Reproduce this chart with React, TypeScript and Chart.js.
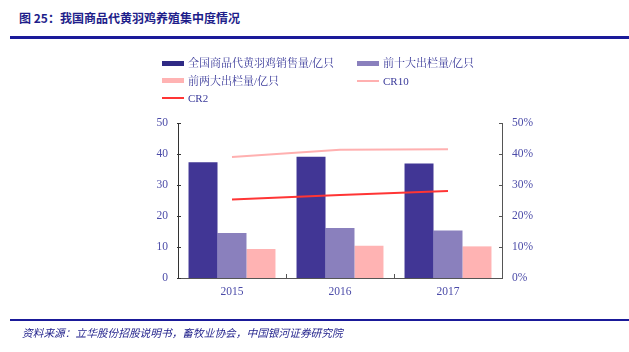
import React, { useEffect, useRef } from "react";
import { Chart, registerables } from "chart.js";

Chart.register(...registerables);

const categories = ["2015", "2016", "2017"];
const totalSales = [37.3, 39.1, 36.9];
const top10Output = [14.5, 16.1, 15.3];
const top2Output = [9.35, 10.4, 10.2];
const cr10 = [39.0, 41.4, 41.5];
const cr2 = [25.3, 26.8, 28.1];
const leftTicks = [0, 10, 20, 30, 40, 50];
const rightTicks = [0, 10, 20, 30, 40, 50];

const seriesNames = [
  "全国商品代黄羽鸡销售量/亿只",
  "前十大出栏量/亿只",
  "前两大出栏量/亿只",
  "CR10",
  "CR2",
];

const C_DARK = "#413695";
const C_MID = "#8a80bd";
const C_PINK = "#ffb3b3";
const C_CR10 = "#ffb0b0";
const C_CR2 = "#ff3535";
const TEXT_BLUE = "#4b4ba8";
const NAVY = "#1e1e8a";

const innerTicks = {
  id: "innerTicks",
  afterDraw(chart: any) {
    const ctx = chart.ctx;
    const a = chart.chartArea;
    ctx.save();
    ctx.strokeStyle = "#333";
    ctx.lineWidth = 1;
    const y = chart.scales.y;
    y.ticks.forEach((t: any) => {
      const py = Math.round(y.getPixelForValue(t.value)) + 0.5;
      ctx.beginPath();
      ctx.moveTo(a.left - 1, py);
      ctx.lineTo(a.left + 3, py);
      ctx.stroke();
    });
    const y1 = chart.scales.y1;
    ctx.strokeStyle = "#555";
    y1.ticks.forEach((t: any) => {
      const py = Math.round(y1.getPixelForValue(t.value)) + 0.5;
      ctx.beginPath();
      ctx.moveTo(a.right - 3, py);
      ctx.lineTo(a.right + 1, py);
      ctx.stroke();
    });
    const n = categories.length;
    const w = (a.right - a.left) / n;
    ctx.strokeStyle = "#555";
    for (let i = 1; i < n; i++) {
      const px = Math.round(a.left + w * i) + 0.5;
      ctx.beginPath();
      ctx.moveTo(px, a.bottom);
      ctx.lineTo(px, a.bottom - 4);
      ctx.stroke();
    }
    ctx.restore();
  },
};

function ChartView() {
  const ref = useRef<HTMLCanvasElement | null>(null);
  useEffect(() => {
    if (!ref.current) return;
    const font = { family: "'Liberation Serif', 'Times New Roman', serif", size: 11.5 };
    const chart = new Chart(ref.current, {
      type: "bar",
      data: {
        labels: categories,
        datasets: [
          { type: "line", label: seriesNames[3], data: cr10, yAxisID: "y1", borderColor: C_CR10, borderWidth: 2, pointRadius: 0, fill: false, tension: 0 },
          { type: "line", label: seriesNames[4], data: cr2, yAxisID: "y1", borderColor: C_CR2, borderWidth: 2, pointRadius: 0, fill: false, tension: 0 },
          { type: "bar", label: seriesNames[0], data: totalSales, backgroundColor: C_DARK, yAxisID: "y", categoryPercentage: 0.805, barPercentage: 1 },
          { type: "bar", label: seriesNames[1], data: top10Output, backgroundColor: C_MID, yAxisID: "y", categoryPercentage: 0.805, barPercentage: 1 },
          { type: "bar", label: seriesNames[2], data: top2Output, backgroundColor: C_PINK, yAxisID: "y", categoryPercentage: 0.805, barPercentage: 1 },
        ] as any,
      },
      options: {
        animation: false,
        responsive: false,
        maintainAspectRatio: false,
        layout: { padding: { left: 130, right: 70, top: 123, bottom: 44 } },
        plugins: { legend: { display: false }, tooltip: { enabled: false }, title: { display: false } },
        scales: {
          x: {
            grid: { display: false, drawTicks: false },
            border: { display: true, color: "#555", width: 1 },
            ticks: { color: TEXT_BLUE, font, padding: 7 },
            afterFit: (s: any) => { s.height = 30; },
          },
          y: {
            position: "left",
            min: 0,
            max: 50,
            afterBuildTicks: (s: any) => { s.ticks = leftTicks.map((v) => ({ value: v })); },
            grid: { display: false, drawTicks: false },
            border: { display: true, color: "#333", width: 1 },
            ticks: { color: TEXT_BLUE, font, padding: 10 },
            afterFit: (s: any) => { s.width = 48; },
          },
          y1: {
            position: "right",
            min: 0,
            max: 50,
            afterBuildTicks: (s: any) => { s.ticks = rightTicks.map((v) => ({ value: v })); },
            grid: { display: false, drawTicks: false },
            border: { display: true, color: "#555", width: 1 },
            ticks: { color: TEXT_BLUE, font, padding: 10, callback: (v: any) => v + "%" },
            afterFit: (s: any) => { s.width = 57; },
          },
        },
      } as any,
      plugins: [innerTicks],
    });
    return () => chart.destroy();
  }, []);
  return <canvas ref={ref} width={629} height={352} style={{ position: "absolute", left: 0, top: 0, width: 629, height: 352 }} />;
}

const legendItems = [
  { name: seriesNames[0], color: "#2f2a85", kind: "bar", x: 162, y: 63 },
  { name: seriesNames[1], color: C_MID, kind: "bar", x: 357, y: 63 },
  { name: seriesNames[2], color: C_PINK, kind: "bar", x: 162, y: 80.5 },
  { name: seriesNames[3], color: C_CR10, kind: "line", x: 357, y: 80.5 },
  { name: seriesNames[4], color: C_CR2, kind: "line", x: 162, y: 98 },
];

export default function App() {
  const legendFont = "'Liberation Serif', 'Noto Serif CJK SC', 'Noto Sans CJK SC', serif";
  return (
    <div style={{ position: "fixed", left: 0, top: 0, width: 629, height: 352, background: "#fff", overflow: "hidden" }}>
      <div style={{ position: "absolute", left: 19, top: 9, fontFamily: "'Noto Sans CJK SC', sans-serif", fontWeight: "bold", fontSize: 12, lineHeight: "18px", color: NAVY, whiteSpace: "nowrap" }}>
        图 25：我国商品代黄羽鸡养殖集中度情况
      </div>
      <div style={{ position: "absolute", left: 10, top: 36, width: 619, height: 3, background: "#1a1a99" }} />
      <ChartView />
      {legendItems.map((it, i) => (
        <div key={i} style={{ position: "absolute", left: it.x, top: it.y - 8, height: 16, display: "flex", alignItems: "center", whiteSpace: "nowrap" }}>
          <div style={{ width: 22, height: it.kind === "bar" ? 5 : 2, background: it.color, marginRight: 4 }} />
          <span style={{ fontFamily: legendFont, fontSize: 11, color: "#3a3a9a", lineHeight: "16px" }}>{it.name}</span>
        </div>
      ))}
      <div style={{ position: "absolute", left: 10, top: 319, width: 619, height: 2, background: "#1a1a99" }} />
      <div style={{ position: "absolute", left: 22, top: 325, fontFamily: "'Noto Sans CJK SC', sans-serif", fontStyle: "italic", fontSize: 10.7, lineHeight: "16px", color: NAVY, whiteSpace: "nowrap" }}>
        资料来源：立华股份招股说明书，畜牧业协会，中国银河证券研究院
      </div>
    </div>
  );
}
